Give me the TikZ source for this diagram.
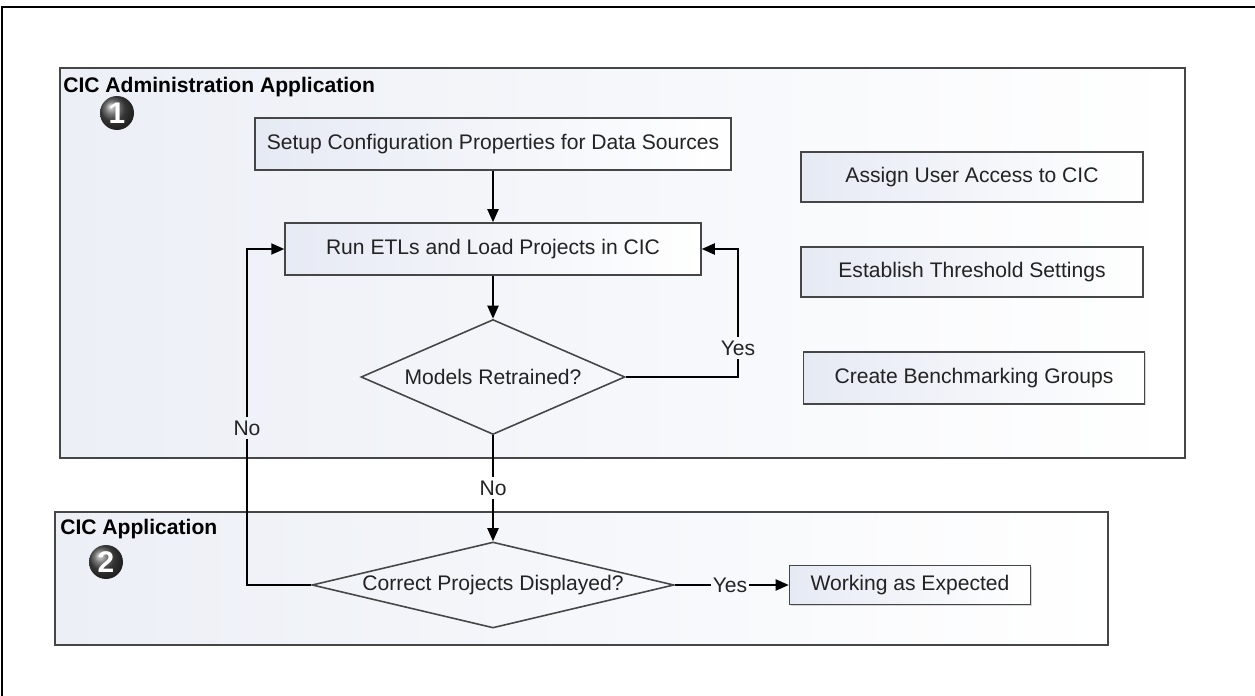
\documentclass[tikz,border=0pt]{standalone}
\usepackage{fontspec}
\setmainfont{Liberation Sans}
\usetikzlibrary{shapes.geometric,arrows.meta,shadows}
\definecolor{boxleft}{RGB}{230,234,244}
\definecolor{panelleft}{RGB}{236,239,246}
\definecolor{edge}{RGB}{70,70,70}
\definecolor{ink}{RGB}{35,35,35}
\tikzset{
	panel/.style={draw=edge, line width=1.1pt, left color=panelleft, right color=white, inner sep=0pt,
		drop shadow={shadow xshift=0.7pt, shadow yshift=-0.7pt, opacity=0.3}},
	task/.style={draw=edge, line width=0.9pt, left color=boxleft, right color=white, inner sep=0pt, text=ink,
		drop shadow={shadow xshift=0.7pt, shadow yshift=-0.7pt, opacity=0.3}},
	decide/.style={diamond, draw=edge, line width=0.9pt, inner sep=0pt, text=ink},
	flow/.style={line width=1.1pt},
	lbl/.style={inner xsep=1pt, inner ysep=2pt, text=ink},
	badge/.style={circle, ball color=black!70, text=white, font=\fontsize{17}{20}\selectfont\bfseries, minimum size=0.68cm, inner sep=0pt},
	paneltitle/.style={anchor=north west, inner sep=0pt, font=\fontsize{12}{14}\selectfont\bfseries}
}
\begin{document}
\begin{tikzpicture}[x=0.02cm, y=-0.02cm, font=\fontsize{12}{14}\selectfont, >={Triangle[length=2.6mm,width=2.2mm]}]
	\useasboundingbox (0,0) rectangle (1255,696);
	\draw[line width=1.1pt] (2,696) -- (2,7) -- (1255,7);
	% the two application panels
	\node[panel, minimum width=22.5cm, minimum height=7.8cm] (admin) at (622.5,263) {};
	\node[panel, minimum width=21.06cm, minimum height=2.66cm] (app) at (581.5,578.5) {};
	\node[paneltitle] (admintitle) at (63,77) {CIC Administration Application};
	\node[paneltitle] (apptitle) at (60,519) {CIC Application};
	\node[badge] (one) at (117,113) {1};
	\node[badge] (two) at (106,562) {2};
	% flow
	\node[task, minimum width=9.52cm, minimum height=1.04cm] (setup) at (493,144) {Setup Configuration Properties for Data Sources};
	\node[task, minimum width=8.32cm, minimum height=1.04cm] (run) at (493,249) {Run ETLs and Load Projects in CIC};
	\node[decide, aspect=2.3, minimum width=5.28cm, minimum height=2.3cm] (retrained) at (493,377) {Models Retrained?};
	\node[decide, aspect=4.2, minimum width=7.24cm, minimum height=1.72cm] (correct) at (493,585) {Correct Projects Displayed?};
	\node[task, minimum width=4.82cm, minimum height=0.78cm] (working) at (910,585) {Working as Expected};
	% side tasks
	\node[task, minimum width=6.84cm, minimum height=1.0cm] (access) at (972,177) {Assign User Access to CIC};
	\node[task, minimum width=6.84cm, minimum height=1.0cm] (threshold) at (972,272) {Establish Threshold Settings};
	\node[task, minimum width=6.82cm, minimum height=1.04cm] (bench) at (974,378) {Create Benchmarking Groups};
	% labels
	\node[lbl] (yesup) at (738,348) {Yes};
	\node[lbl] (noup) at (247,428) {No};
	\node[lbl] (nodown) at (493,488) {No};
	\node[lbl] (yesright) at (730,585) {Yes};
	\draw[flow, ->] (setup) -- (run);
	\draw[flow, ->] (run) -- (retrained);
	\draw[flow] (retrained.east) -| (yesup.south);
	\draw[flow, ->] (yesup.north) |- (run.east);
	\draw[flow] (retrained.south) -- (nodown.north);
	\draw[flow, ->] (nodown.south) -- (correct.north);
	\draw[flow] (correct.west) -| (noup.south);
	\draw[flow, ->] (noup.north) |- (run.west);
	\draw[flow] (correct.east) -- (yesright.west);
	\draw[flow, ->] (yesright.east) -- (working.west);
\end{tikzpicture}
\end{document}
